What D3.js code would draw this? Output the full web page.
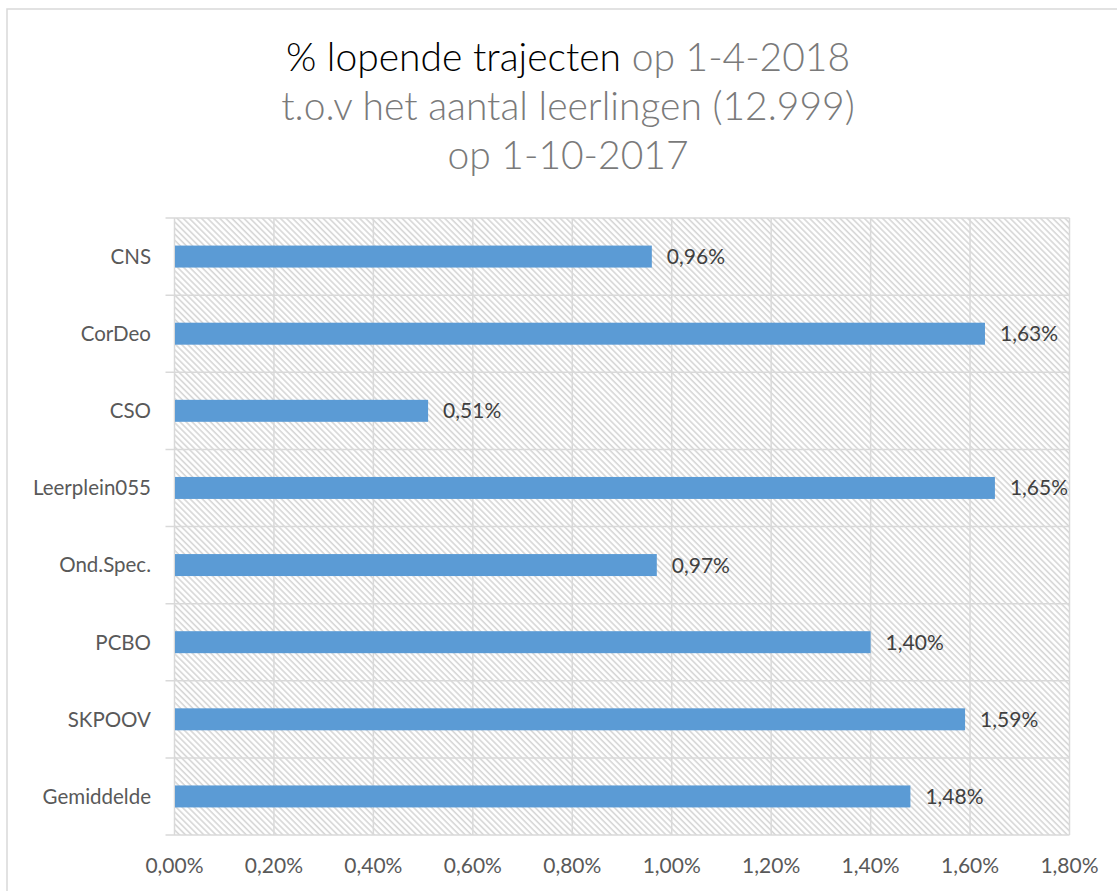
<!DOCTYPE html>
<html><head><meta charset="utf-8">
<script src="https://cdn.jsdelivr.net/npm/d3@7"></script>
<style>
html,body{margin:0;padding:0;background:#fff;}
svg{display:block;}
text{font-family:Lato,"Open Sans",sans-serif;}
</style></head>
<body>
<svg id="chart" width="1117" height="891"></svg>
<script>
const categories = ["CNS","CorDeo","CSO","Leerplein055","Ond.Spec.","PCBO","SKPOOV","Gemiddelde"];
const values = [0.96,1.63,0.51,1.65,0.97,1.40,1.59,1.48];
const tickValues = [0,0.2,0.4,0.6,0.8,1.0,1.2,1.4,1.6,1.8];
const titleLines = [
  [["% lopende trajecten ","#000000"],["op 1-4-2018","#7a7a7a"]],
  [["t.o.v het aantal leerlingen (12.999)","#7a7a7a"]],
  [["op 1-10-2017","#7a7a7a"]]
];

(function(){
const svg = d3.select("#chart");
const fmt = v => v.toFixed(2).replace(".", ",") + "%";

// chart border
svg.append("rect").attr("x",7).attr("y",9).attr("width",1200).attr("height",1000)
  .attr("fill","#fff").attr("stroke","#d9d9d9").attr("stroke-width",1.5);

// hatch pattern
const defs = svg.append("defs");
const pat = defs.append("pattern").attr("id","hatch").attr("patternUnits","userSpaceOnUse")
  .attr("width",4.3).attr("height",4.3).attr("patternTransform","rotate(-45)");
pat.append("rect").attr("width",4.3).attr("height",4.3).attr("fill","#ffffff");
pat.append("line").attr("x1",1).attr("y1",0).attr("x2",1).attr("y2",4.3)
  .attr("stroke","#d6d6d6").attr("stroke-width",1.6);

const pLeft = 174.5, pRight = 1069.5, pTop = 218, pBottom = 835;
const x = d3.scaleLinear().domain([0,1.8]).range([pLeft,pRight]);
const y = d3.scaleBand().domain(categories).range([pTop,pBottom]).paddingInner(0.715).paddingOuter(0.3575);
const yb = d3.scaleBand().domain(categories).range([pTop,pBottom]);

// plot area
svg.append("rect").attr("x",pLeft).attr("y",pTop).attr("width",pRight-pLeft).attr("height",pBottom-pTop)
  .attr("fill","url(#hatch)");

// vertical gridlines
svg.append("g").selectAll("line").data(tickValues).join("line")
  .attr("x1",d=>x(d)).attr("x2",d=>x(d)).attr("y1",pTop).attr("y2",pBottom)
  .attr("stroke","#d9d9d9").attr("stroke-width",1.5);

// horizontal category boundaries (with outward ticks)
const bounds = categories.map(c=>yb(c)).concat([pBottom]);
svg.append("g").selectAll("line").data(bounds).join("line")
  .attr("x1",pLeft-9).attr("x2",pRight).attr("y1",d=>d).attr("y2",d=>d)
  .attr("stroke","#d9d9d9").attr("stroke-width",1.5);

// bars
svg.append("g").selectAll("rect").data(values).join("rect")
  .attr("x",x(0)+0.5).attr("y",(d,i)=>y(categories[i]))
  .attr("width",d=>x(d)-x(0)-0.5).attr("height",y.bandwidth())
  .attr("fill","#5b9bd5");

// value labels
svg.append("g").selectAll("text").data(values).join("text")
  .attr("x",d=>x(d)+15).attr("y",(d,i)=>y(categories[i])+y.bandwidth()/2)
  .attr("dy","0.36em").attr("font-size",21).attr("fill","#404040")
  .text(d=>fmt(d));

// category labels
svg.append("g").selectAll("text").data(categories).join("text")
  .attr("x",151).attr("y",d=>yb(d)+yb.bandwidth()/2)
  .attr("dy","0.36em").attr("text-anchor","end").attr("font-size",20.5).attr("fill","#595959")
  .text(d=>d);

// x tick labels
svg.append("g").selectAll("text").data(tickValues).join("text")
  .attr("x",d=>x(d)).attr("y",865).attr("dy","0.36em")
  .attr("text-anchor","middle").attr("font-size",21).attr("fill","#595959")
  .text(d=>fmt(d));

// title
const tY = [71,120,169];
titleLines.forEach((parts,i)=>{
  const t = svg.append("text").attr("x",568).attr("y",tY[i]).attr("text-anchor","middle")
    .attr("font-size",39).attr("font-weight",300);
  parts.forEach(p=>t.append("tspan").attr("fill",p[1]).text(p[0]));
});
})();
</script>
</body></html>
